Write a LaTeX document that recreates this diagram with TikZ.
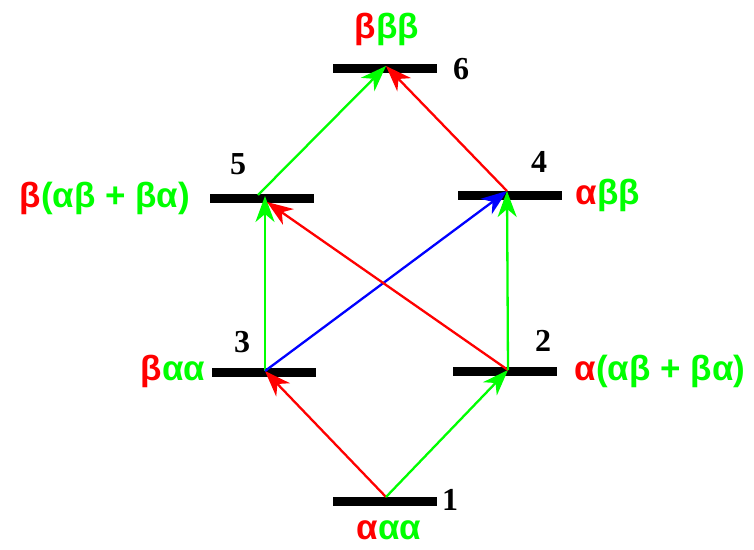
\documentclass[tikz,border=0pt]{standalone}
\usepackage{fontspec}
\setmainfont{Liberation Serif}
\newfontfamily\greekfont{Liberation Sans}
\usetikzlibrary{arrows.meta}
\definecolor{lr}{RGB}{255,0,0}
\definecolor{lg}{RGB}{0,255,0}
\definecolor{lb}{RGB}{0,0,255}
\newcommand\myR[1]{\textcolor{lr}{#1}}
\newcommand\myG[1]{\textcolor{lg}{#1}}
\tikzset{
  bar/.style={fill=black, draw=none, minimum width=104pt, minimum height=9pt, inner sep=0pt},
  num/.style={font=\fontsize{32}{36}\selectfont\bfseries, inner sep=0pt},
  state/.style={font=\greekfont\fontsize{35}{40}\selectfont\bfseries, inner sep=0pt},
  arr/.style={line width=2.3pt, -{Stealth[length=26pt,width=19pt,inset=8pt]}}
}
\begin{document}
\begin{tikzpicture}[x=1pt,y=-1pt]
\useasboundingbox (0,0) rectangle (754,549);
% levels
\node[bar] (b1) at (385,501) {};
\node[bar] (b2) at (505,371) {};
\node[bar] (b3) at (264,372) {};
\node[bar] (b4) at (510,195) {};
\node[bar] (b5) at (262,198) {};
\node[bar] (b6) at (385,68) {};
% attach points
\coordinate (p1) at (386,497);
\coordinate (p2) at (508,370);
\coordinate (p3) at (265,371);
\coordinate (p4) at (507,191);
\coordinate (p5) at (265,196);
\coordinate (p5r) at (267,202);
\coordinate (p5s) at (258,195);
\coordinate (p6) at (386,66);
% numbers
\node[num] (n1) at (450,500) {1};
\node[num] (n2) at (543,341) {2};
\node[num] (n3) at (242,342) {3};
\node[num] (n4) at (539,162) {4};
\node[num] (n5) at (238,164) {5};
\node[num] (n6) at (461,69) {6};
% state labels
\node[state] (s1) at (389,530) {\myR{α}\myG{αα}};
\node[state] (s2) at (660,371) {\myR{α}\myG{(αβ + βα)}};
\node[state] (s3) at (173,371) {\myR{β}\myG{αα}};
\node[state] (s4) at (608,195) {\myR{α}\myG{ββ}};
\node[state] (s5) at (105,198) {\myR{β}\myG{(αβ + βα)}};
\node[state] (s6) at (387,29) {\myR{β}\myG{ββ}};
% transitions
\draw[arr, lr] (p1) -- (p3);
\draw[arr, lg] (p1) -- (p2);
\draw[arr, lg] (p3) -- (p5);
\draw[arr, lb] (p3) -- (p4);
\draw[arr, lr] (p2) -- (p5r);
\draw[arr, lg] (p2) -- (p4);
\draw[arr, lg] (p5s) -- (p6);
\draw[arr, lr] (p4) -- (p6);
\end{tikzpicture}
\end{document}
